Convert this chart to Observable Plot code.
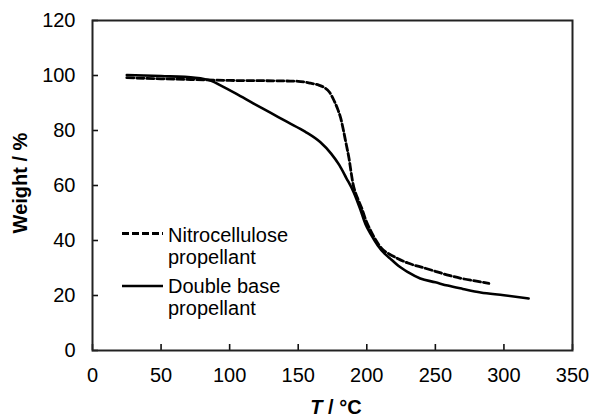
<!DOCTYPE html>
<html>
<head>
<meta charset="utf-8">
<script src="https://cdn.jsdelivr.net/npm/d3@7"></script>
<script src="https://cdn.jsdelivr.net/npm/@observablehq/plot@0.6"></script>
<style>
  html, body { margin: 0; padding: 0; background: #fff; }
  #wrap { position: relative; width: 590px; height: 418px; font-family: "Liberation Sans", Arial, sans-serif; color: #000; }
  #wrap svg.plot { display: block; }
  .ov { position: absolute; white-space: nowrap; font-size: 20px; line-height: 22px; }
  .title { font-weight: bold; line-height: 16px; }
</style>
</head>
<body>
<div id="wrap"></div>
<script>
// Tick values
const xTicks = [0, 50, 100, 150, 200, 250, 300, 350];
const yTicks = [0, 20, 40, 60, 80, 100, 120];

// Nitrocellulose propellant (dashed)
const ncT = [25, 50, 75, 100, 125, 142, 150, 159, 165, 169, 173, 176, 179, 181, 183, 185, 187, 188.5, 190, 192, 194, 196.5, 199, 203, 207, 211, 216, 222, 230, 242, 250, 260, 271, 280, 289];
const ncW = [99.2, 98.8, 98.5, 98.2, 98.1, 98.0, 97.9, 97.2, 96.5, 95.6, 93.8, 91.0, 87.5, 84.5, 80.0, 75.0, 70.0, 65.0, 60.5, 57.0, 54.5, 51.5, 47.8, 43.4, 39.8, 37.0, 35.2, 33.6, 31.8, 30.0, 28.8, 27.3, 26.0, 25.2, 24.4];

// Double base propellant (solid)
const dbT = [25, 50, 75, 87, 93, 105, 117.5, 130, 142, 155, 166, 174, 180, 185, 190.5, 195.5, 199, 203, 208, 213, 218, 223, 230, 239, 250, 259, 270, 283, 300, 318];
const dbW = [100.2, 99.8, 99.2, 98.0, 96.5, 93.3, 89.8, 86.4, 83.1, 79.6, 75.8, 71.6, 67.4, 62.8, 57.5, 51.0, 46.0, 42.2, 38.2, 35.2, 33.0, 30.8, 28.5, 26.2, 24.8, 23.6, 22.4, 21.1, 20.1, 18.9];

// Legend and titles
const seriesNames = ["Nitrocellulose\npropellant", "Double base\npropellant"];
const yTitle = "Weight / %";
const xTitleVar = "T";
const xTitleUnit = " / °C";

const nc = ncT.map((t, i) => ({T: t, W: ncW[i]}));
const db = dbT.map((t, i) => ({T: t, W: dbW[i]}));

const W = 590, H = 418, mL = 92, mR = 18, mT = 20, mB = 68;
const xDomain = [0, 350], yDomain = [0, 120];
const tickLen = 6;
// tick length expressed in data units of the opposite scale
const tickLenY = tickLen * (yDomain[1] - yDomain[0]) / (H - mT - mB);
const tickLenX = tickLen * (xDomain[1] - xDomain[0]) / (W - mL - mR);

const chart = Plot.plot({
  width: W,
  height: H,
  marginLeft: mL,
  marginRight: mR,
  marginTop: mT,
  marginBottom: mB,
  style: {fontFamily: '"Liberation Sans", Arial, sans-serif', fontSize: "20px", color: "#000", background: "#fff"},
  x: {domain: xDomain, label: null},
  y: {domain: yDomain, label: null},
  marks: [
    // labels
    Plot.axisX({ticks: xTicks, tickSize: 0, tickPadding: 17, label: null, fill: "#000"}),
    Plot.axisY({ticks: yTicks, tickSize: 0, tickPadding: 17, label: null, fill: "#000"}),
    // inward ticks
    Plot.ruleX(xTicks, {x: d => d, y1: yDomain[0], y2: yDomain[0] + tickLenY, stroke: "#111", strokeWidth: 1.6}),
    Plot.ruleY(yTicks, {y: d => d, x1: xDomain[0], x2: xDomain[0] + tickLenX, stroke: "#111", strokeWidth: 1.6}),
    Plot.line(nc, {x: "T", y: "W", stroke: "#000", strokeWidth: 2.8, strokeDasharray: "7,3", curve: "monotone-x"}),
    Plot.line(db, {x: "T", y: "W", stroke: "#000", strokeWidth: 2.6, curve: "monotone-x"}),
    Plot.frame({stroke: "#222", strokeWidth: 2})
  ]
});
chart.classList.add("plot");
const wrap = document.getElementById("wrap");
wrap.appendChild(chart);

// Legend overlay
const legSvg = document.createElementNS("http://www.w3.org/2000/svg", "svg");
legSvg.setAttribute("width", W);
legSvg.setAttribute("height", H);
legSvg.style.position = "absolute";
legSvg.style.left = "0px";
legSvg.style.top = "0px";
legSvg.innerHTML =
  '<line x1="122" x2="163" y1="233.5" y2="233.5" stroke="#000" stroke-width="2.8" stroke-dasharray="7,3"/>' +
  '<line x1="122" x2="163" y1="286" y2="286" stroke="#000" stroke-width="2.6"/>';
wrap.appendChild(legSvg);

const tops = [224, 275];
seriesNames.forEach((name, i) => {
  const d = document.createElement("div");
  d.className = "ov";
  d.style.left = "168px";
  d.style.top = tops[i] + "px";
  d.innerHTML = name.split("\n").join("<br>");
  wrap.appendChild(d);
});

const yt = document.createElement("div");
yt.className = "ov title";
yt.textContent = yTitle;
yt.style.left = "20px";
yt.style.top = "183px";
yt.style.transform = "translate(-50%, -50%) rotate(-90deg)";
wrap.appendChild(yt);

const xt = document.createElement("div");
xt.className = "ov title";
xt.innerHTML = "<i>" + xTitleVar + "</i>" + xTitleUnit;
xt.style.left = "336px";
xt.style.top = "407px";
xt.style.transform = "translate(-50%, -50%)";
wrap.appendChild(xt);
</script>
</body>
</html>
